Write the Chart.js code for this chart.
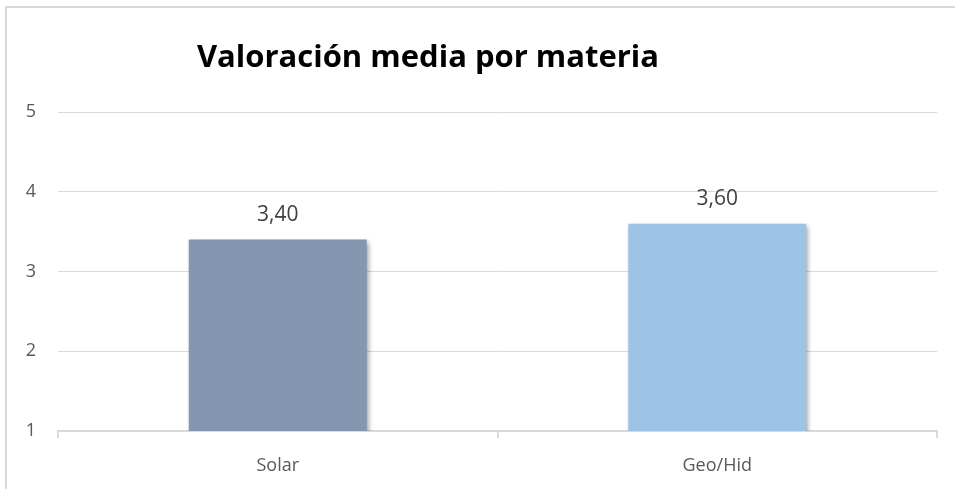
<!DOCTYPE html>
<html>
<head>
<meta charset="utf-8">
<script src="https://cdn.jsdelivr.net/npm/chart.js@4/dist/chart.umd.min.js"></script>
<style>
  html, body { margin: 0; padding: 0; background: #ffffff; overflow: hidden; }
  #wrap { position: relative; width: 955px; height: 489px; }
  #frame { position: absolute; left: 5px; top: 6px; width: 960px; height: 500px;
           border-left: 2px solid #d9d9d9; border-top: 2px solid #d9d9d9; pointer-events: none; }
  canvas { position: absolute; left: 0; top: 0; }
</style>
</head>
<body>
<div id="wrap">
  <canvas id="c" width="955" height="489"></canvas>
  <div id="frame"></div>
</div>
<script>
const titleText = "Valoración media por materia";
const categories = ["Solar", "Geo/Hid"];
const values = [3.4, 3.6];
const barColors = ["#8497B0", "#9DC3E6"];
const yTicks = [1, 2, 3, 4, 5];

const FONT = "'Open Sans', 'Liberation Sans', sans-serif";

const titlePlugin = {
  id: 'titlePlugin',
  afterDraw(chart) {
    const ctx = chart.ctx;
    ctx.save();
    ctx.font = "bold 31px " + FONT;
    ctx.fillStyle = "#000000";
    ctx.textAlign = "center";
    ctx.textBaseline = "middle";
    ctx.fillText(titleText, 428, 58);
    ctx.restore();
  }
};

const shadowPlugin = {
  id: 'shadowPlugin',
  beforeDatasetsDraw(chart) {
    const ctx = chart.ctx;
    ctx.save();
    ctx.shadowColor = "rgba(0,0,0,0.4)";
    ctx.shadowBlur = 5;
    ctx.shadowOffsetX = 2;
    ctx.shadowOffsetY = 2;
  },
  afterDatasetsDraw(chart) {
    chart.ctx.restore();
  }
};

const labelPlugin = {
  id: 'labelPlugin',
  afterDatasetsDraw(chart) {
    const ctx = chart.ctx;
    ctx.save();
    ctx.font = "21px " + FONT;
    ctx.fillStyle = "#404040";
    ctx.textAlign = "center";
    ctx.textBaseline = "middle";
    const meta = chart.getDatasetMeta(0);
    meta.data.forEach((bar, i) => {
      const txt = values[i].toFixed(2).replace('.', ',');
      ctx.fillText(txt, bar.x, bar.y - 25);
    });
    ctx.restore();
  }
};

new Chart(document.getElementById('c'), {
  type: 'bar',
  data: {
    labels: categories,
    datasets: [{
      data: values,
      backgroundColor: barColors,
      borderWidth: 0,
      categoryPercentage: 0.405,
      barPercentage: 1.0
    }]
  },
  options: {
    responsive: false,
    animation: false,
    events: [],
    layout: { padding: { left: 18, right: 18, top: 112, bottom: 0 } },
    plugins: {
      legend: { display: false },
      tooltip: { enabled: false },
      title: { display: false }
    },
    scales: {
      x: {
        offset: true,
        grid: {
          offset: true,
          drawOnChartArea: false,
          drawTicks: true,
          tickLength: 7,
          color: "#d9d9d9",
          lineWidth: 2
        },
        border: { display: true, color: "#d9d9d9", width: 2 },
        ticks: { color: "#595959", font: { family: FONT, size: 18 }, padding: 17 },
        afterFit(scale) { scale.height = 58; }
      },
      y: {
        min: 1,
        max: 5,
        afterBuildTicks(scale) { scale.ticks = yTicks.map(v => ({ value: v })); },
        grid: { color: "#d9d9d9", lineWidth: 1, drawTicks: false },
        border: { display: false },
        ticks: { color: "#595959", font: { family: FONT, size: 18 }, padding: 22 },
        afterFit(scale) { scale.width = 40; }
      }
    }
  },
  plugins: [shadowPlugin, labelPlugin, titlePlugin]
});
</script>
</body>
</html>
